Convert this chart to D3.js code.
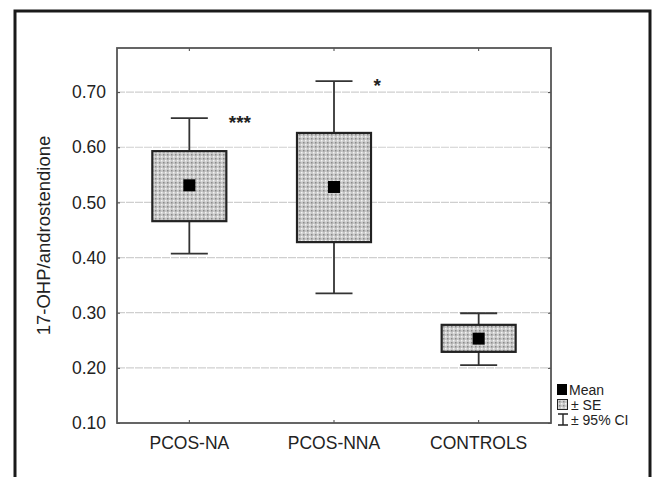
<!DOCTYPE html>
<html lang="en">
<head>
    <meta charset="UTF-8">
    <title>17-OHP/androstendione</title>
    <script src="https://d3js.org/d3.v7.min.js"></script>
    <style>
        body { margin: 0; background: #fff; font-family: "Liberation Sans", Arial, sans-serif; }
        .tick-label { font-size: 17.5px; fill: #222; }
        .axis-title { font-size: 18.5px; fill: #222; }
        .legend { font-size: 14px; fill: #222; }
    </style>
</head>
<body>
<svg id="svg" width="655" height="477"></svg>
<script>
    // Data
    const groups = ["PCOS-NA", "PCOS-NNA", "CONTROLS"];
    const means = [0.531, 0.528, 0.253];
    const seLow = [0.466, 0.428, 0.229];
    const seHigh = [0.593, 0.626, 0.278];
    const ciLow = [0.407, 0.335, 0.205];
    const ciHigh = [0.653, 0.720, 0.299];
    const marks = ["***", "*", ""];
    const yTicks = [0.10, 0.20, 0.30, 0.40, 0.50, 0.60, 0.70];

    const svg = d3.select("#svg");
    const margin = { top: 48, left: 117, right: 104, bottom: 54 };
    const width = 655, height = 477;
    const plotW = width - margin.left - margin.right;
    const plotH = height - margin.top - margin.bottom;

    // stipple fill for the SE boxes
    const defs = svg.append("defs");
    const pat = defs.append("pattern")
        .attr("id", "stipple")
        .attr("patternUnits", "userSpaceOnUse")
        .attr("width", 4).attr("height", 4);
    pat.append("rect").attr("width", 4).attr("height", 4).attr("fill", "#c8c8c8");
    pat.append("rect").attr("x", 0).attr("y", 0).attr("width", 1.5).attr("height", 1.5).attr("fill", "#f4f4f4");
    pat.append("rect").attr("x", 2).attr("y", 2).attr("width", 1.5).attr("height", 1.5).attr("fill", "#8a8a8a");

    // outer frame (bottom edge is off the picture)
    svg.append("path")
        .attr("d", "M15,480 L15,11 L650,11 L650,480")
        .attr("fill", "none")
        .attr("stroke", "#1a1a1a")
        .attr("stroke-width", 3);

    const g = svg.append("g").attr("transform", `translate(${margin.left},${margin.top})`);

    const x = d3.scaleBand().domain(groups).range([0, plotW]).padding(0);
    const y = d3.scaleLinear().domain([0.10, 0.78]).range([plotH, 0]);

    // gridlines
    g.selectAll(".grid")
        .data(yTicks.slice(1))
        .enter().append("line")
        .attr("class", "grid")
        .attr("x1", 0).attr("x2", plotW)
        .attr("y1", d => y(d)).attr("y2", d => y(d))
        .attr("stroke", "#cfcfcf")
        .attr("stroke-width", 1.2)
        .attr("stroke-dasharray", "8 1");

    // axes
    const yAxis = g.append("g")
        .call(d3.axisLeft(y).tickValues(yTicks).tickFormat(d3.format(".2f")).tickSize(-3).tickPadding(11));
    yAxis.select(".domain").remove();
    yAxis.selectAll("line").attr("stroke", "#444");
    yAxis.selectAll("text").attr("class", "tick-label").attr("font-family", null).attr("font-size", null);

    const yAxisR = g.append("g").attr("transform", `translate(${plotW},0)`)
        .call(d3.axisRight(y).tickValues(yTicks).tickFormat("").tickSize(-3));
    yAxisR.select(".domain").remove();
    yAxisR.selectAll("line").attr("stroke", "#444");

    const xAxis = g.append("g").attr("transform", `translate(0,${plotH})`)
        .call(d3.axisBottom(x).tickSize(-3).tickPadding(14));
    xAxis.select(".domain").remove();
    xAxis.selectAll("line").attr("stroke", "#444");
    xAxis.selectAll("text").attr("class", "tick-label").attr("font-family", null).attr("font-size", null);

    const xAxisT = g.append("g")
        .call(d3.axisTop(x).tickSize(-3).tickFormat(""));
    xAxisT.select(".domain").remove();
    xAxisT.selectAll("line").attr("stroke", "#444");

    // plot frame
    g.append("rect")
        .attr("width", plotW).attr("height", plotH)
        .attr("fill", "none")
        .attr("stroke", "#555")
        .attr("stroke-width", 1.8);

    const boxW = 74, capW = 37, meanS = 12;
    const cx = d => x(d) + x.bandwidth() / 2;

    const items = g.selectAll(".item")
        .data(groups)
        .enter().append("g").attr("class", "item");

    // whiskers (95% CI)
    items.append("line")
        .attr("x1", d => cx(d)).attr("x2", d => cx(d))
        .attr("y1", (d, i) => y(ciLow[i])).attr("y2", (d, i) => y(ciHigh[i]))
        .attr("stroke", "#333").attr("stroke-width", 1.8);
    items.append("line")
        .attr("x1", d => cx(d) - capW / 2).attr("x2", d => cx(d) + capW / 2)
        .attr("y1", (d, i) => y(ciHigh[i])).attr("y2", (d, i) => y(ciHigh[i]))
        .attr("stroke", "#333").attr("stroke-width", 1.8);
    items.append("line")
        .attr("x1", d => cx(d) - capW / 2).attr("x2", d => cx(d) + capW / 2)
        .attr("y1", (d, i) => y(ciLow[i])).attr("y2", (d, i) => y(ciLow[i]))
        .attr("stroke", "#333").attr("stroke-width", 1.8);

    // SE boxes
    items.append("rect")
        .attr("x", d => cx(d) - boxW / 2)
        .attr("width", boxW)
        .attr("y", (d, i) => y(seHigh[i]))
        .attr("height", (d, i) => y(seLow[i]) - y(seHigh[i]))
        .attr("fill", "url(#stipple)")
        .attr("stroke", "#222")
        .attr("stroke-width", 2.2);

    // means
    items.append("rect")
        .attr("x", d => cx(d) - meanS / 2)
        .attr("y", (d, i) => y(means[i]) - meanS / 2)
        .attr("width", meanS).attr("height", meanS)
        .attr("fill", "#000");

    // significance stars
    items.append("text")
        .attr("x", d => cx(d) + capW / 2 + 21)
        .attr("y", (d, i) => y(ciHigh[i]) + 11)
        .attr("font-size", "19px")
        .attr("font-weight", "bold")
        .attr("fill", "#222")
        .text((d, i) => marks[i]);

    // y axis title
    svg.append("text")
        .attr("transform", `translate(50,${margin.top + y(0.44)}) rotate(-90)`)
        .attr("text-anchor", "middle")
        .attr("class", "axis-title")
        .text("17-OHP/androstendione");

    // legend
    const lg = svg.append("g").attr("transform", "translate(557,383)");
    lg.append("rect").attr("x", 0).attr("y", 1).attr("width", 10).attr("height", 11).attr("fill", "#000");
    lg.append("text").attr("class", "legend").attr("x", 12).attr("y", 12).text("Mean");
    lg.append("rect").attr("x", 0.5).attr("y", 16.5).attr("width", 10).attr("height", 10)
        .attr("fill", "url(#stipple)").attr("stroke", "#222").attr("stroke-width", 1);
    lg.append("text").attr("class", "legend").attr("x", 14).attr("y", 27).text("± SE");
    lg.append("path").attr("d", "M1,31 H11 M6,31 V42 M1,42 H11")
        .attr("stroke", "#222").attr("stroke-width", 1.4).attr("fill", "none");
    lg.append("text").attr("class", "legend").attr("x", 14).attr("y", 42).text("± 95% CI");
</script>
</body>
</html>
